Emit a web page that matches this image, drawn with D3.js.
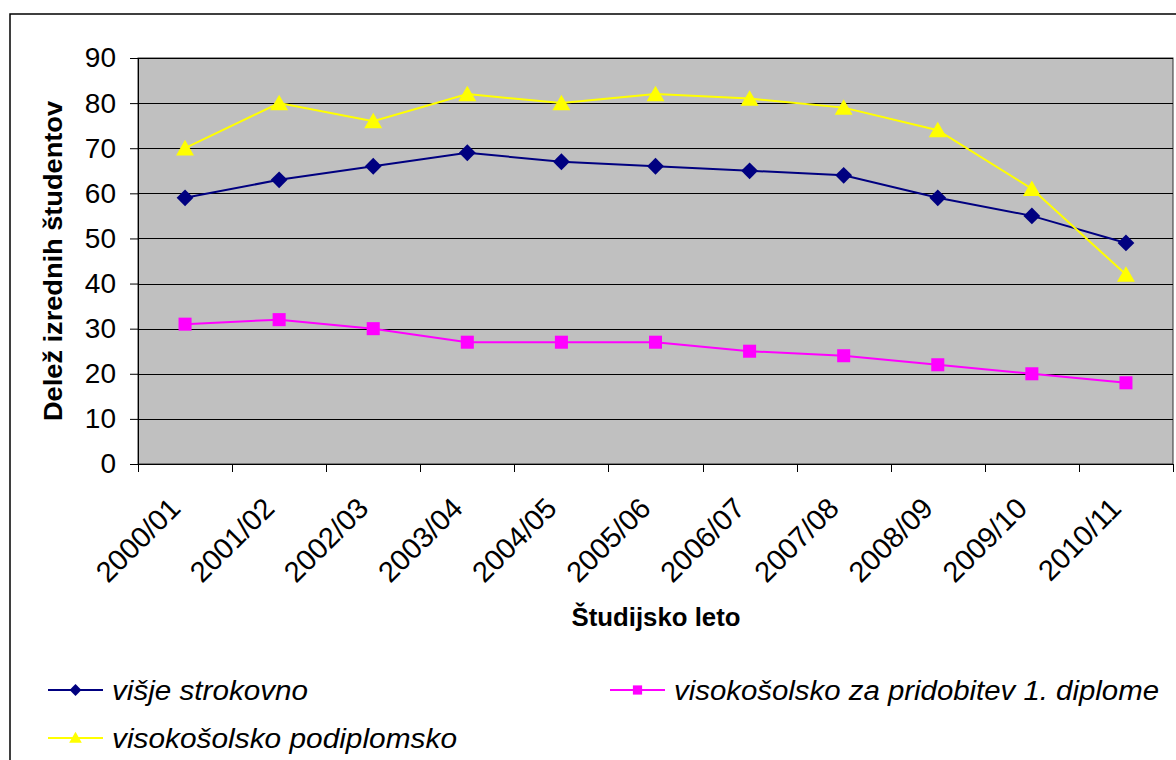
<!DOCTYPE html>
<html>
<head>
<meta charset="utf-8">
<script src="https://cdn.jsdelivr.net/npm/d3@7"></script>
<style>
  body { margin: 0; background: #fff; }
  svg { display: block; font-family: "Liberation Sans", Arial, sans-serif; }
</style>
</head>
<body>
<svg id="chart" width="1176" height="760"></svg>
<script>
var years = ['2000/01', '2001/02', '2002/03', '2003/04', '2004/05', '2005/06',
	'2006/07', '2007/08', '2008/09', '2009/10', '2010/11'];

var visjeStrokovno = [59, 63, 66, 69, 67, 66, 65, 64, 59, 55, 49];
var visokoPrvaDiploma = [31, 32, 30, 27, 27, 27, 25, 24, 22, 20, 18];
var visokoPodiplomsko = [70, 80, 76, 82, 80, 82, 81, 79, 74, 61, 42];

var yTicks = [0, 10, 20, 30, 40, 50, 60, 70, 80, 90];

var series = [
	{name: 'višje strokovno', values: visjeStrokovno, color: '#000080', shape: 'diamond'},
	{name: 'visokošolsko za pridobitev 1. diplome', values: visokoPrvaDiploma, color: '#FF00FF', shape: 'square'},
	{name: 'visokošolsko podiplomsko', values: visokoPodiplomsko, color: '#FFFF00', shape: 'triangle'}
];

var svg = d3.select('#chart');

var plot = {left: 138, right: 1173, top: 58, bottom: 464};

// outer chart frame
svg.append('rect')
	.attr('x', 10).attr('y', 14)
	.attr('width', 1180).attr('height', 760)
	.attr('fill', 'none').attr('stroke', '#000').attr('stroke-width', 1.5);

var x = d3.scaleBand().domain(years).range([plot.left, plot.right]);
var y = d3.scaleLinear().domain([0, 90]).range([plot.bottom, plot.top]);

svg.append('rect')
	.attr('x', plot.left).attr('y', plot.top)
	.attr('width', plot.right - plot.left).attr('height', plot.bottom - plot.top)
	.attr('fill', '#C0C0C0').attr('stroke', '#333').attr('stroke-width', 1);

// horizontal grid
svg.append('g').selectAll('line').data(yTicks.slice(1)).enter().append('line')
	.attr('x1', plot.left).attr('x2', plot.right)
	.attr('y1', function(d) { return Math.round(y(d)) + 0.5; })
	.attr('y2', function(d) { return Math.round(y(d)) + 0.5; })
	.attr('stroke', '#000').attr('stroke-width', 1);

// y axis
var yAxis = svg.append('g')
	.attr('transform', 'translate(' + plot.left + ',0)')
	.call(d3.axisLeft(y).tickValues(yTicks).tickSize(8).tickPadding(14));
yAxis.selectAll('text').attr('font-size', 28).attr('fill', '#000')
	.attr('font-family', '"Liberation Sans", Arial, sans-serif');
yAxis.select('.domain').attr('stroke', '#000');
yAxis.selectAll('.tick line').attr('stroke', '#000');

// x axis, ticks at category boundaries
var xg = svg.append('g');
xg.append('line')
	.attr('x1', plot.left).attr('x2', plot.right)
	.attr('y1', plot.bottom + 0.5).attr('y2', plot.bottom + 0.5)
	.attr('stroke', '#000');
var bounds = years.map(function(d) { return x(d); }).concat([plot.right]);
xg.selectAll('.tk').data(bounds).enter().append('line')
	.attr('x1', function(d) { return Math.round(d) + 0.5; })
	.attr('x2', function(d) { return Math.round(d) + 0.5; })
	.attr('y1', plot.bottom).attr('y2', plot.bottom + 8)
	.attr('stroke', '#000');
xg.selectAll('.lbl').data(years).enter().append('text')
	.attr('transform', function(d) {
		return 'translate(' + (x(d) + x.bandwidth() / 2 - 3) + ',' + (plot.bottom + 46) + ') rotate(-45)';
	})
	.attr('text-anchor', 'end')
	.attr('font-size', 29)
	.text(function(d) { return d; });

// axis titles
svg.append('text')
	.attr('x', 656).attr('y', 626)
	.attr('text-anchor', 'middle')
	.attr('font-size', 26).attr('font-weight', 'bold')
	.attr('textLength', 169).attr('lengthAdjust', 'spacingAndGlyphs')
	.text('Študijsko leto');
svg.append('text')
	.attr('transform', 'translate(62,' + ((plot.top + plot.bottom) / 2) + ') rotate(-90)')
	.attr('text-anchor', 'middle')
	.attr('font-size', 26).attr('font-weight', 'bold')
	.attr('textLength', 320).attr('lengthAdjust', 'spacingAndGlyphs')
	.text('Delež izrednih študentov');

var symbolFor = function(shape, scale) {
	var s = scale || 1;
	if (shape == 'diamond') return d3.symbol().type(d3.symbolDiamond2).size(180 * s)();
	if (shape == 'square') return d3.symbol().type(d3.symbolSquare).size(170 * s)();
	return d3.symbol().type(d3.symbolTriangle2).size(230 * s)();
};

var line = d3.line()
	.x(function(d, i) { return x(years[i]) + x.bandwidth() / 2; })
	.y(function(d) { return y(d); });

series.forEach(function(s) {
	var g = svg.append('g');
	g.append('path')
		.attr('d', line(s.values))
		.attr('fill', 'none').attr('stroke', s.color).attr('stroke-width', 2);
	g.selectAll('path.mk').data(s.values).enter().append('path')
		.attr('class', 'mk')
		.attr('d', symbolFor(s.shape))
		.attr('transform', function(d, i) {
			var dy = s.shape == 'triangle' ? 2 : 0;
			return 'translate(' + (x(years[i]) + x.bandwidth() / 2) + ',' + (y(d) + dy) + ')';
		})
		.attr('fill', s.color);
});

// legend
var legendPos = [[48, 690], [610, 690], [48, 738]];
var legendWidths = [196, 485, 345];
series.forEach(function(s, i) {
	var p = legendPos[i];
	var lg = svg.append('g').attr('transform', 'translate(' + p[0] + ',' + p[1] + ')');
	lg.append('line').attr('x1', 0).attr('x2', 55).attr('y1', 0).attr('y2', 0)
		.attr('stroke', s.color).attr('stroke-width', 2);
	lg.append('path').attr('d', symbolFor(s.shape, 0.5))
		.attr('transform', 'translate(27.5,' + (s.shape == 'triangle' ? 1 : 0) + ')')
		.attr('fill', s.color);
	lg.append('text')
		.attr('x', 64).attr('y', 10)
		.attr('font-size', 27).attr('font-style', 'italic')
		.attr('textLength', legendWidths[i]).attr('lengthAdjust', 'spacingAndGlyphs')
		.text(s.name);
});
</script>
</body>
</html>
